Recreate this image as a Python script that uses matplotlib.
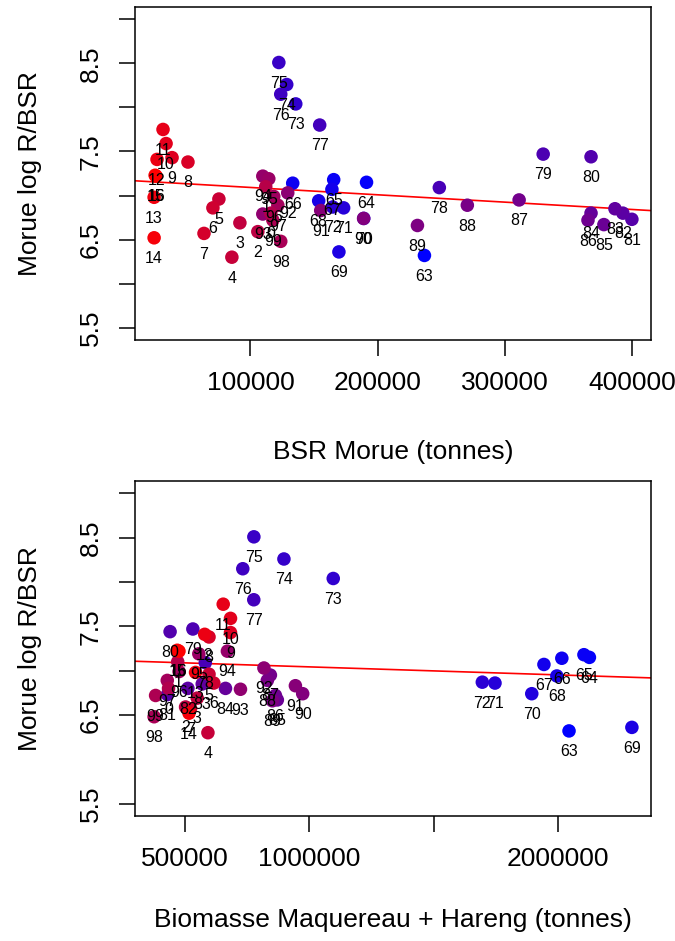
import numpy as np
import matplotlib
matplotlib.use("Agg")
import matplotlib.pyplot as plt
from matplotlib.colors import LinearSegmentedColormap

plt.rcParams["font.family"] = ["Liberation Sans", "DejaVu Sans"]

# =============================================================================
# DATA
# =============================================================================

years = [1963, 1964, 1965, 1966, 1967, 1968, 1969, 1970, 1971, 1972,
         1973, 1974, 1975, 1976, 1977, 1978, 1979, 1980, 1981, 1982,
         1983, 1984, 1985, 1986, 1987, 1988, 1989, 1990, 1991, 1992,
         1993, 1994, 1995, 1996, 1997, 1998, 1999, 2000, 2001, 2002,
         2003, 2004, 2005, 2006, 2007, 2008, 2009, 2010, 2011, 2012,
         2013, 2014, 2015, 2016]

# Morue log R/BSR
log_r_bsr = [6.32, 7.15, 7.18, 7.14, 7.07, 6.94, 6.36, 6.74, 6.86, 6.87,
             8.04, 8.26, 8.51, 8.15, 7.80, 7.09, 7.47, 7.44, 6.73, 6.80,
             6.85, 6.80, 6.67, 6.72, 6.95, 6.89, 6.66, 6.74, 6.83, 7.03,
             6.79, 7.22, 7.19, 6.99, 6.89, 6.48, 6.72, 6.80, 7.10, 6.59,
             6.69, 6.30, 6.96, 6.86, 6.57, 7.38, 7.43, 7.59, 7.75, 7.41,
             6.98, 6.52, 7.23, 7.22]

# BSR Morue (tonnes)
bsr_morue = [236700, 191200, 165400, 133200, 164000, 153600, 169500, 189000, 173200, 164600,
             135600, 128500, 122300, 123800, 154400, 248400, 330000, 367600, 399700, 392600,
             386400, 367600, 377700, 365200, 311100, 270400, 231200, 188900, 155200, 129300,
             109700, 109700, 114400, 118300, 121500, 123800, 117600, 116000, 112000, 105800,
             91700, 85400, 75200, 70500, 63500, 50900, 38400, 33700, 31300, 26600,
             24300, 24300, 25100, 25900]

# Biomasse Maquereau + Hareng (tonnes)
biomasse_pel = [2045000, 2127000, 2105000, 2016000, 1944000, 1996000, 2298000, 1895000, 1747000, 1696000,
                1096000, 897500, 776500, 731900, 776100, 581000, 531000, 439300, 428600, 511000,
                568700, 662300, 871000, 863300, 843000, 830700, 851000, 973000, 943700, 817000,
                722600, 670000, 555000, 475500, 428000, 375000, 381000, 433000, 470000, 501600,
                548600, 591600, 596000, 615300, 521700, 596000, 682500, 682500, 653100, 578600,
                541800, 515500, 468200, 475000]

# abline() coefficients of the two fits
fit_morue = (7.175, -8.34e-7)
fit_pel = (7.133, -9.04e-8)

Y_TICKS = [5.5, 6.0, 6.5, 7.0, 7.5, 8.0, 8.5, 9.0]
Y_TICK_LABELS = ["5.5", "", "6.5", "", "7.5", "", "8.5", ""]
X1_TICKS = [100000, 200000, 300000, 400000]
X1_TICK_LABELS = ["100000", "200000", "300000", "400000"]
X2_TICKS = [500000, 1000000, 1500000, 2000000]
X2_TICK_LABELS = ["500000", "1000000", "", "2000000"]

# =============================================================================
# PLOT
# =============================================================================

W, H = 675, 941
FS = 19
LABEL_FS = 11.5

ramp = LinearSegmentedColormap.from_list("bluered", ["#0000FF", "#FF0000"])
yr = np.array(years)
colors = ramp((yr - yr.min()) / (yr.max() - yr.min()))
labels = [str(y % 100) for y in years]


def panel(rect, x, xticks, xticklabels, fit, xlabel, xlabel_y):
    ax = fig.add_axes(rect)
    x = np.asarray(x, dtype=float)
    y = np.asarray(log_r_bsr)
    ax.scatter(x, y, s=95, c=colors, edgecolors="none", zorder=2)
    for xi, yi, lab in zip(x, y, labels):
        ax.annotate(lab, (xi, yi), xytext=(0, -15), textcoords="offset points",
                    ha="center", va="center", fontsize=LABEL_FS, zorder=3)
    ax.axline((0, fit[0]), slope=fit[1], color="red", lw=1.2, zorder=1)

    pad = 0.04 * (x.max() - x.min())
    ax.set_xlim(x.min() - pad, x.max() + pad)
    ax.set_ylim(5.5 - 0.14, 9.0 + 0.14)
    ax.set_xticks(xticks, xticklabels)
    ax.set_yticks(Y_TICKS, Y_TICK_LABELS)
    ax.tick_params(axis="both", length=11.4, width=1.1, labelsize=FS, direction="out")
    ax.tick_params(axis="x", pad=11)
    ax.tick_params(axis="y", pad=12)
    for t in ax.get_yticklabels():
        t.set_rotation(90)
        t.set_va("center")
    for sp in ax.spines.values():
        sp.set_linewidth(1.1)

    fig.text(((rect[0] + rect[0] + rect[2]) / 2), 1 - xlabel_y / H, xlabel,
             ha="center", va="center", fontsize=FS)
    fig.text(30 / W, rect[1] + rect[3] / 2, "Morue log R/BSR",
             ha="center", va="center", rotation=90, fontsize=FS)
    return ax


fig = plt.figure(figsize=(W / 100, H / 100), dpi=100)

panel([135 / W, 1 - 340 / H, (651 - 135) / W, 333 / H],
      bsr_morue, X1_TICKS, X1_TICK_LABELS, fit_morue,
      "BSR Morue (tonnes)", 452)
panel([135 / W, 1 - 816 / H, (651 - 135) / W, 335 / H],
      biomasse_pel, X2_TICKS, X2_TICK_LABELS, fit_pel,
      "Biomasse Maquereau + Hareng (tonnes)", 920)

fig.savefig("out.png", dpi=100)
